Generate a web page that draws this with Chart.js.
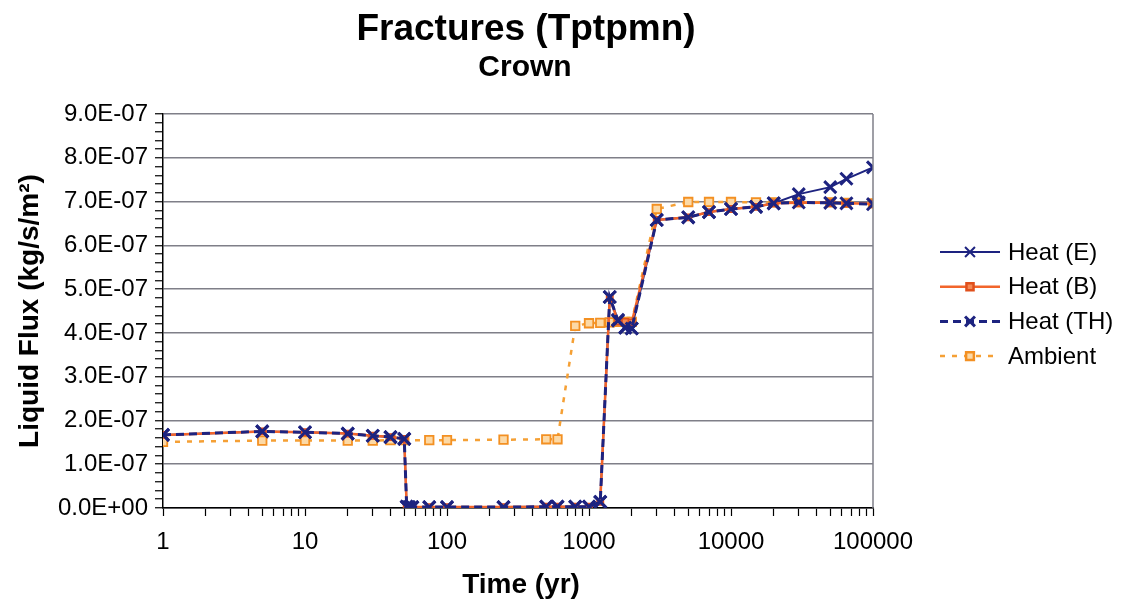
<!DOCTYPE html>
<html>
<head>
<meta charset="utf-8">
<script src="https://cdn.jsdelivr.net/npm/chart.js@4.4.1/dist/chart.umd.min.js"></script>
<style>
  html, body { margin: 0; padding: 0; background: #fff; }
  #wrap { width: 1125px; height: 607px; }
</style>
</head>
<body>
<div id="wrap"><canvas id="chart" width="1125" height="607"></canvas></div>
<script>
// values, flux in units of 1e-7 kg/s/m2
const UNIT = 1e-7;

const timeHeat = [1, 5, 10, 20, 30, 40, 50, 52, 54, 57, 75, 100, 250, 500, 600, 800, 1000, 1200,
  1400, 1600, 1800, 2000, 3000, 5000, 7000, 10000, 15000, 20000, 30000, 50000, 65000, 100000];
const heatE = [1.67, 1.75, 1.73, 1.70, 1.65, 1.62, 1.58, 0.03, 0.02, 0.02, 0.02, 0.02, 0.02, 0.03, 0.03, 0.03, 0.03, 0.14,
  4.82, 4.30, 4.12, 4.10, 6.58, 6.64, 6.76, 6.83, 6.88, 6.96, 7.17, 7.33, 7.52, 7.78];
const heatB = [1.67, 1.75, 1.73, 1.70, 1.65, 1.62, 1.58, 0.03, 0.02, 0.02, 0.02, 0.02, 0.02, 0.03, 0.03, 0.03, 0.03, 0.14,
  4.80, 4.26, 4.25, 4.24, 6.58, 6.64, 6.76, 6.83, 6.88, 6.96, 6.97, 6.97, 6.96, 6.95];
const heatTH = [1.67, 1.75, 1.73, 1.70, 1.65, 1.62, 1.58, 0.03, 0.02, 0.02, 0.02, 0.02, 0.02, 0.03, 0.03, 0.03, 0.03, 0.14,
  4.82, 4.28, 4.12, 4.10, 6.58, 6.64, 6.76, 6.83, 6.88, 6.96, 6.98, 6.97, 6.96, 6.94];

const timeAmbient = [1, 5, 10, 20, 30, 40, 50, 75, 100, 250, 500, 600, 800, 1000, 1200, 1400, 1600, 1800, 2000,
  3000, 5000, 7000, 10000, 15000, 20000, 30000, 50000, 65000, 100000];
const ambient = [1.51, 1.54, 1.54, 1.54, 1.54, 1.55, 1.55, 1.55, 1.55, 1.56, 1.57, 1.57, 4.16, 4.22, 4.23, 4.24, 4.25, 4.25, 4.25,
  6.83, 6.99, 6.99, 6.99, 6.98, 6.98, 6.98, 6.98, 6.97, 6.96];

const xTickLabels = ["1", "10", "100", "1000", "10000", "100000"];
const seriesNames = ["Heat (E)", "Heat (B)", "Heat (TH)", "Ambient"];

const FONT = "'Liberation Sans', Arial, sans-serif";
const NAVY = "#1d2380";
const RED_ORANGE = "#f2652b";
const ORANGE = "#f5a035";

const toPoints = (xs, ys) => xs.map((x, i) => ({ x, y: ys[i] * UNIT }));

function sciLabel(v) {
  if (Math.abs(v) < 1e-15) return "0.0E+00";
  const exp = Math.floor(Math.log10(v) + 1e-9);
  const mant = v / Math.pow(10, exp);
  const sign = exp < 0 ? "-" : "+";
  return mant.toFixed(1) + "E" + sign + String(Math.abs(exp)).padStart(2, "0");
}

const isMajorY = (v) => Math.round(v / 2e-8) % 5 === 0;

// titles, legend and the right-hand frame line
const decorations = {
  id: "decorations",
  afterDraw(chart) {
    const { ctx, chartArea } = chart;
    ctx.save();
    ctx.strokeStyle = "#7f7f88";
    ctx.lineWidth = 1.5;
    ctx.beginPath();
    ctx.moveTo(chartArea.right, chartArea.top);
    ctx.lineTo(chartArea.right, chartArea.bottom);
    ctx.stroke();

    ctx.fillStyle = "#000";
    ctx.textAlign = "center";
    ctx.textBaseline = "alphabetic";
    ctx.font = "bold 37px " + FONT;
    ctx.fillText("Fractures (Tptpmn)", 526, 40);
    ctx.font = "bold 30px " + FONT;
    ctx.fillText("Crown", 525, 76);

    ctx.font = "bold 28px " + FONT;
    ctx.fillText("Time (yr)", (chartArea.left + chartArea.right) / 2 + 3, 593);

    ctx.save();
    ctx.translate(30, (chartArea.top + chartArea.bottom) / 2);
    ctx.rotate(-Math.PI / 2);
    ctx.textBaseline = "middle";
    ctx.fillText("Liquid Flux (kg/s/m\u00B2)", 0, 0);
    ctx.restore();

    // legend
    ctx.font = "24px " + FONT;
    ctx.textAlign = "left";
    ctx.textBaseline = "middle";
    chart.data.datasets.forEach((ds, i) => {
      const y = 252 + i * 34.7;
      ctx.save();
      ctx.strokeStyle = ds.borderColor;
      ctx.lineWidth = ds.borderWidth;
      ctx.setLineDash(ds.borderDash || []);
      ctx.beginPath();
      ctx.moveTo(940, y);
      ctx.lineTo(1000, y);
      ctx.stroke();
      ctx.setLineDash([]);
      ctx.strokeStyle = ds.pointBorderColor;
      ctx.fillStyle = ds.pointBackgroundColor;
      Chart.helpers.drawPoint(ctx, {
        pointStyle: ds.pointStyle,
        radius: ds.legendRadius,
        borderWidth: ds.legendBorder,
        rotation: 0
      }, 970, y);
      ctx.restore();
      ctx.fillStyle = "#000";
      ctx.fillText(ds.label, 1008, y + 1);
    });
    ctx.restore();
  }
};

new Chart(document.getElementById("chart"), {
  type: "line",
  data: {
    datasets: [
      {
        label: seriesNames[0],
        data: toPoints(timeHeat, heatE),
        borderColor: NAVY, borderWidth: 2,
        pointStyle: "crossRot", pointRadius: 8.5, pointBorderWidth: 3,
        pointBorderColor: NAVY, pointBackgroundColor: NAVY, legendRadius: 7, legendBorder: 2.2,
        order: 3
      },
      {
        label: seriesNames[1],
        data: toPoints(timeHeat, heatB),
        borderColor: RED_ORANGE, borderWidth: 2.5,
        pointStyle: "rect", pointRadius: 4.5, pointBorderWidth: 1.5,
        pointBorderColor: "#e0501c", pointBackgroundColor: "#f58a55", legendRadius: 5, legendBorder: 1.5,
        order: 2
      },
      {
        label: seriesNames[2],
        data: toPoints(timeHeat, heatTH),
        borderColor: NAVY, borderWidth: 3, borderDash: [8, 5],
        pointStyle: "crossRot", pointRadius: 8.5, pointBorderWidth: 3,
        pointBorderColor: NAVY, pointBackgroundColor: NAVY, legendRadius: 7, legendBorder: 2.2,
        order: 1
      },
      {
        label: seriesNames[3],
        data: toPoints(timeAmbient, ambient),
        borderColor: ORANGE, borderWidth: 2.5, borderDash: [5, 7],
        pointStyle: "rect", pointRadius: 6, pointBorderWidth: 1.8,
        pointBorderColor: "#f39022", pointBackgroundColor: "#fcd9a6", legendRadius: 5.5, legendBorder: 1.5,
        order: 4
      }
    ]
  },
  plugins: [decorations],
  options: {
    responsive: false,
    animation: false,
    events: [],
    layout: { padding: { top: 114, right: 252, bottom: 0, left: 0 } },
    plugins: { legend: { display: false }, title: { display: false }, tooltip: { enabled: false } },
    elements: { line: { tension: 0 } },
    scales: {
      x: {
        type: "logarithmic",
        min: 1, max: 100000,
        afterFit(scale) { scale.height = 99; },
        afterBuildTicks(scale) {
          const ticks = [];
          for (let d = 0; d < 5; d++) {
            for (let m = 1; m < 10; m++) ticks.push({ value: m * Math.pow(10, d) });
          }
          ticks.push({ value: 100000 });
          scale.ticks = ticks;
        },
        grid: { drawOnChartArea: false, tickLength: 8, tickColor: "#000", tickWidth: 1.2 },
        border: { color: "#000", width: 1.5 },
        ticks: {
          autoSkip: false, maxRotation: 0, padding: 12,
          color: "#000", font: { family: FONT, size: 24 },
          callback(value) {
            const k = Math.log10(value);
            return Math.abs(k - Math.round(k)) < 1e-9 ? xTickLabels[Math.round(k)] : "";
          }
        }
      },
      y: {
        min: 0, max: 9e-7,
        afterFit(scale) { scale.width = 163; },
        afterBuildTicks(scale) {
          const ticks = [];
          for (let i = 0; i <= 45; i++) ticks.push({ value: i * 2e-8 });
          scale.ticks = ticks;
        },
        grid: {
          tickLength: 8, tickColor: "#000", tickWidth: 1.2, lineWidth: 1.5,
          color: (ctx) => (ctx.tick && isMajorY(ctx.tick.value) ? "#7f7f88" : "rgba(0,0,0,0)")
        },
        border: { color: "#000", width: 1.5 },
        ticks: {
          autoSkip: false, padding: 7,
          color: "#000", font: { family: FONT, size: 24 },
          callback(value) { return isMajorY(value) ? sciLabel(value) : ""; }
        }
      }
    }
  }
});
</script>
</body>
</html>
